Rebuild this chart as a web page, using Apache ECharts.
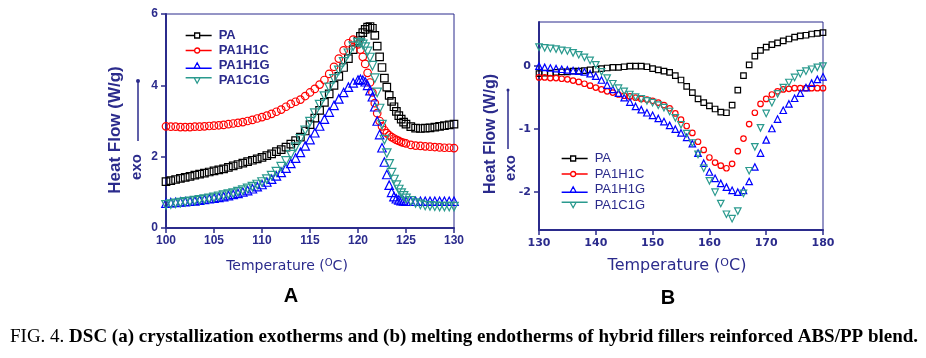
<!DOCTYPE html>
<html>
<head>
<meta charset="utf-8">
<script src="https://cdn.jsdelivr.net/npm/echarts@6/dist/echarts.min.js"></script>
<style>html,body{margin:0;padding:0;background:#fff;}#c{width:926px;height:358px;}</style>
</head>
<body>
<div id="c"></div>
<script>
// ---------- Panel A: crystallization exotherms ----------
var tempA = [100,100.5,101,101.5,102,102.5,103,103.5,104,104.5,105,105.5,106,106.5,107,107.5,108,108.5,109,109.5,110,110.5,111,111.5,112,112.5,113,113.5,114,114.5,115,115.5,116,116.5,117,117.5,118,118.5,119,119.5,120,
  120.25,120.5,120.75,121,121.25,121.5,121.75,122,122.25,122.5,122.75,123,123.25,123.5,123.75,124,124.25,124.5,124.75,125,
  125.5,126,126.5,127,127.5,128,128.5,129,129.5,130];
var paA = [1.30,1.33,1.36,1.39,1.42,1.45,1.48,1.51,1.54,1.57,1.60,1.63,1.66,1.70,1.74,1.78,1.82,1.86,1.90,1.94,1.98,2.03,2.08,2.14,2.20,2.27,2.35,2.45,2.55,2.72,2.90,3.08,3.30,3.52,3.76,4.00,4.25,4.50,4.75,5.00,5.25,
  5.37,5.48,5.57,5.63,5.65,5.60,5.40,5.10,4.80,4.50,4.20,3.95,3.72,3.55,3.40,3.27,3.15,3.05,2.97,2.91,
  2.84,2.80,2.79,2.80,2.81,2.83,2.85,2.87,2.89,2.91];
var h1cA = [2.85,2.84,2.84,2.83,2.83,2.83,2.84,2.84,2.85,2.86,2.87,2.88,2.89,2.91,2.93,2.95,2.97,3.00,3.03,3.07,3.11,3.15,3.20,3.26,3.32,3.40,3.48,3.54,3.60,3.70,3.80,3.90,4.02,4.15,4.32,4.52,4.75,4.98,5.18,5.28,5.15,
  5.00,4.80,4.60,4.35,4.08,3.80,3.50,3.22,3.00,2.85,2.74,2.66,2.60,2.55,2.51,2.47,2.44,2.41,2.39,2.37,
  2.33,2.31,2.30,2.29,2.28,2.27,2.26,2.25,2.25,2.24];
var h1gA = [0.70,0.71,0.72,0.73,0.74,0.75,0.76,0.78,0.80,0.82,0.84,0.86,0.88,0.91,0.94,0.97,1.01,1.05,1.10,1.16,1.22,1.29,1.37,1.46,1.56,1.68,1.81,1.96,2.12,2.30,2.48,2.67,2.86,3.05,3.25,3.44,3.62,3.80,3.95,4.07,4.15,
  4.17,4.15,4.10,4.00,3.85,3.68,3.40,3.00,2.62,2.25,1.85,1.50,1.20,1.00,0.88,0.82,0.79,0.77,0.76,0.75,
  0.75,0.75,0.75,0.75,0.75,0.75,0.75,0.75,0.75,0.75];
var c1gA = [0.65,0.67,0.69,0.71,0.73,0.75,0.77,0.79,0.81,0.83,0.86,0.89,0.92,0.95,0.98,1.02,1.06,1.11,1.16,1.22,1.29,1.37,1.47,1.58,1.72,1.88,2.06,2.27,2.50,2.74,2.98,3.22,3.46,3.70,3.94,4.18,4.42,4.66,4.90,5.10,5.20,
  5.19,5.15,5.07,4.95,4.78,4.55,4.20,3.80,3.35,2.90,2.48,2.10,1.80,1.55,1.36,1.20,1.08,0.98,0.90,0.83,
  0.76,0.70,0.66,0.63,0.62,0.61,0.60,0.60,0.60,0.60];

// ---------- Panel B: melting endotherms ----------
var tempB = [130,131,132,133,134,135,136,137,138,139,140,141,142,143,144,145,146,147,148,149,150,151,152,153,154,155,156,157,158,159,160,161,162,163,164,165,166,167,168,169,170,171,172,173,174,175,176,177,178,179,180];
var paB = [-0.12,-0.11,-0.11,-0.10,-0.09,-0.09,-0.08,-0.08,-0.07,-0.06,-0.05,-0.04,-0.03,-0.02,-0.02,-0.01,0.00,0.00,0.00,-0.01,-0.04,-0.06,-0.08,-0.10,-0.15,-0.22,-0.32,-0.42,-0.52,-0.58,-0.63,-0.68,-0.73,-0.74,-0.62,-0.38,-0.15,0.02,0.16,0.25,0.30,0.34,0.37,0.40,0.43,0.46,0.48,0.49,0.51,0.52,0.53];
var h1cB = [-0.18,-0.18,-0.19,-0.19,-0.20,-0.21,-0.23,-0.25,-0.28,-0.31,-0.34,-0.37,-0.40,-0.42,-0.45,-0.47,-0.48,-0.50,-0.52,-0.53,-0.55,-0.58,-0.62,-0.67,-0.75,-0.85,-0.95,-1.06,-1.20,-1.33,-1.45,-1.53,-1.58,-1.62,-1.55,-1.35,-1.15,-0.92,-0.74,-0.60,-0.52,-0.45,-0.40,-0.37,-0.36,-0.35,-0.35,-0.35,-0.35,-0.35,-0.35];
var h1gB = [0.00,-0.02,-0.03,-0.04,-0.05,-0.06,-0.07,-0.08,-0.09,-0.12,-0.16,-0.22,-0.30,-0.37,-0.43,-0.50,-0.57,-0.64,-0.69,-0.74,-0.78,-0.83,-0.88,-0.94,-1.00,-1.06,-1.13,-1.23,-1.38,-1.54,-1.68,-1.78,-1.86,-1.92,-1.97,-2.00,-1.97,-1.83,-1.60,-1.38,-1.17,-0.99,-0.84,-0.70,-0.60,-0.51,-0.43,-0.34,-0.27,-0.21,-0.17];
var c1gB = [0.30,0.29,0.28,0.27,0.25,0.24,0.21,0.18,0.14,0.09,0.02,-0.09,-0.19,-0.28,-0.35,-0.40,-0.45,-0.49,-0.52,-0.55,-0.58,-0.62,-0.66,-0.72,-0.82,-0.93,-1.07,-1.22,-1.40,-1.62,-1.82,-2.00,-2.18,-2.35,-2.42,-2.30,-2.02,-1.66,-1.28,-0.98,-0.75,-0.58,-0.44,-0.34,-0.26,-0.18,-0.12,-0.08,-0.05,-0.02,0.00];

var seriesNames = ['PA','PA1H1C','PA1H1G','PA1C1G'];
var ticksAx = [100,105,110,115,120,125,130];
var ticksAy = [0,2,4,6];
var ticksBx = [130,140,150,160,170,180];
var ticksBy = [-2,-1,0];

var NAVY = '#2b2b8c';
var colors = ['#000000','#ff0000','#0000ff','#2a9a8e'];
var symbols = ['rect','circle','triangle','triangle'];
var rotates = [0,0,0,180];
// legend icons: short line – hollow marker – short line (viewBox 26 x 8)
var legendIcons = [
  'path://M0,4L9,4M9,1.5L14,1.5L14,6.5L9,6.5ZM14,4L26,4',
  'path://M0,4L9,4M9,4A2.5,2.5,0,1,1,14,4A2.5,2.5,0,1,1,9,4M14,4L26,4',
  'path://M0,6.5L26,6.5M11.5,1L14.5,6.5L8.5,6.5Z',
  'path://M0,1.5L26,1.5M11.5,7L8.5,1.5L14.5,1.5Z'
];

function pairs(xs, ys){ return xs.map(function(x,i){ return [x, ys[i]]; }); }

var dataA = [paA,h1cA,h1gA,c1gA];
var dataB = [paB,h1cB,h1gB,c1gB];

var series = [];
function addSeries(idx, dataSets, sizes){
  dataSets.forEach(function(d,i){
    series.push({
      name: seriesNames[i], type:'line', xAxisIndex: idx, yAxisIndex: idx,
      data: pairs(idx===0?tempA:tempB, d),
      symbol: symbols[i], symbolRotate: rotates[i], symbolSize: sizes[i],
      showAllSymbol: true, showSymbol: true,
      lineStyle: {width: 0, color: 'rgba(0,0,0,0)'},
      itemStyle: {color: 'rgba(255,255,255,0)', borderColor: colors[i], borderWidth: 1.2},
      emphasis: {disabled: true},
      animation: false, z: 2
    });
  });
}
addSeries(0, dataA, [7.5,7.5,8.5,8.5]);
addSeries(1, dataB, [5.5,5.5,6.5,6.5]);

function legendData(){
  return seriesNames.map(function(n,i){
    return {name:n, icon: legendIcons[i],
      itemStyle:{color:'rgba(255,255,255,0)', borderColor:colors[i], borderWidth:1.3}};
  });
}

var axisLine = {show:true, onZero:false, lineStyle:{color:NAVY, width:2}};
var axisTick = {show:true, inside:false, length:5, lineStyle:{color:NAVY, width:1.5}};

var option = {
  animation: false,
  backgroundColor: '#ffffff',
  grid: [
    {left:166, top:14, width:288, height:214, show:true, borderColor:NAVY, borderWidth:1, backgroundColor:'transparent'},
    {left:539, top:22, width:284, height:208, show:true, borderColor:NAVY, borderWidth:1, backgroundColor:'transparent'}
  ],
  xAxis: [
    {gridIndex:0, type:'value', min:100, max:130, interval:5, axisLine:axisLine, axisTick:axisTick, splitLine:{show:false},
     axisLabel:{color:NAVY, fontFamily:'Liberation Sans, Arial', fontWeight:'bold', fontSize:12, margin:7, customValues: ticksAx}},
    {gridIndex:1, type:'value', min:130, max:180, interval:10, axisLine:axisLine, axisTick:axisTick, splitLine:{show:false},
     axisLabel:{color:NAVY, fontFamily:'DejaVu Sans', fontWeight:'bold', fontSize:11, margin:8, customValues: ticksBx}}
  ],
  yAxis: [
    {gridIndex:0, type:'value', min:0, max:6, interval:2, axisLine:axisLine, axisTick:axisTick, splitLine:{show:false},
     axisLabel:{color:NAVY, fontFamily:'Liberation Sans, Arial', fontWeight:'bold', fontSize:12, margin:8, customValues: ticksAy}},
    {gridIndex:1, type:'value', min:-2.6, max:0.7, axisLine:axisLine,
     axisTick:{show:true, inside:false, length:5, lineStyle:{color:NAVY, width:1.5}, customValues: ticksBy},
     splitLine:{show:false},
     axisLabel:{color:NAVY, fontFamily:'DejaVu Sans', fontWeight:'bold', fontSize:11, margin:8, customValues: ticksBy}}
  ],
  legend: [
    {data: legendData(), orient:'vertical', left:180, top:24, itemWidth:26, itemHeight:8, itemGap:2, selectedMode:false,
     textStyle:{color:NAVY, fontFamily:'Liberation Sans, Arial', fontWeight:'bold', fontSize:13, padding:[0,0,0,2]}},
    {data: legendData(), orient:'vertical', left:556, top:147, itemWidth:26, itemHeight:8, itemGap:2.5, selectedMode:false,
     textStyle:{color:NAVY, fontFamily:'Liberation Sans, Arial', fontWeight:'normal', fontSize:13, padding:[0,0,0,2]}}
  ],
  series: series,
  graphic: [
    // Panel A y-axis title
    {type:'text', x:115, y:130, rotation:Math.PI/2, style:{text:'Heat Flow (W/g)', fill:NAVY, font:'bold 17px "Liberation Sans", Arial', textAlign:'center', textVerticalAlign:'middle'}},
    {type:'text', x:137, y:167, rotation:Math.PI/2, style:{text:'exo', fill:NAVY, font:'bold 15px "Liberation Sans", Arial', textAlign:'center', textVerticalAlign:'middle'}},
    {type:'line', shape:{x1:138, y1:81, x2:138, y2:141}, style:{stroke:NAVY, lineWidth:1.5}},
    {type:'circle', shape:{cx:138, cy:81, r:2}, style:{fill:NAVY}},
    // Panel B y-axis title
    {type:'text', x:491, y:134, rotation:Math.PI/2, style:{text:'Heat Flow (W/g)', fill:NAVY, font:'bold 16px "Liberation Sans", Arial', textAlign:'center', textVerticalAlign:'middle'}},
    {type:'text', x:511, y:168, rotation:Math.PI/2, style:{text:'exo', fill:NAVY, font:'bold 15px "Liberation Sans", Arial', textAlign:'center', textVerticalAlign:'middle'}},
    {type:'line', shape:{x1:508, y1:90, x2:508, y2:149}, style:{stroke:NAVY, lineWidth:1.5}},
    {type:'circle', shape:{cx:508, cy:90, r:1.5}, style:{fill:NAVY}},
    // x-axis titles
    {type:'text', x:287, y:266, style:{text:'{a|Temperature (}{s|O}{a|C)}', textAlign:'center', textVerticalAlign:'middle',
      rich:{a:{fill:NAVY, font:'14px "DejaVu Sans"'}, s:{fill:NAVY, font:'10px "DejaVu Sans"', verticalAlign:'top', padding:[0,0,6,0]}}}},
    {type:'text', x:677, y:266, style:{text:'{a|Temperature (}{s|O}{a|C)}', textAlign:'center', textVerticalAlign:'middle',
      rich:{a:{fill:NAVY, font:'16px "DejaVu Sans"'}, s:{fill:NAVY, font:'11px "DejaVu Sans"', verticalAlign:'top', padding:[0,0,6,0]}}}},
    // panel letters
    {type:'text', x:291, y:296, style:{text:'A', fill:'#000', font:'bold 20px "Liberation Sans", Arial', textAlign:'center', textVerticalAlign:'middle'}},
    {type:'text', x:668, y:298, style:{text:'B', fill:'#000', font:'bold 20px "Liberation Sans", Arial', textAlign:'center', textVerticalAlign:'middle'}},
    // caption
    {type:'text', x:10, y:337, style:{text:'{n|FIG. 4. }{b|DSC (a) crystallization exotherms and (b) melting endotherms of hybrid fillers reinforced ABS/PP blend.}',
      textAlign:'left', textVerticalAlign:'middle',
      rich:{n:{fill:'#000', font:'19px "Liberation Serif", serif'}, b:{fill:'#000', font:'bold 19px "Liberation Serif", serif'}}}}
  ]
};

var chart = echarts.init(document.getElementById('c'), null, {renderer:'canvas'});
chart.setOption(option);
</script>
</body>
</html>
